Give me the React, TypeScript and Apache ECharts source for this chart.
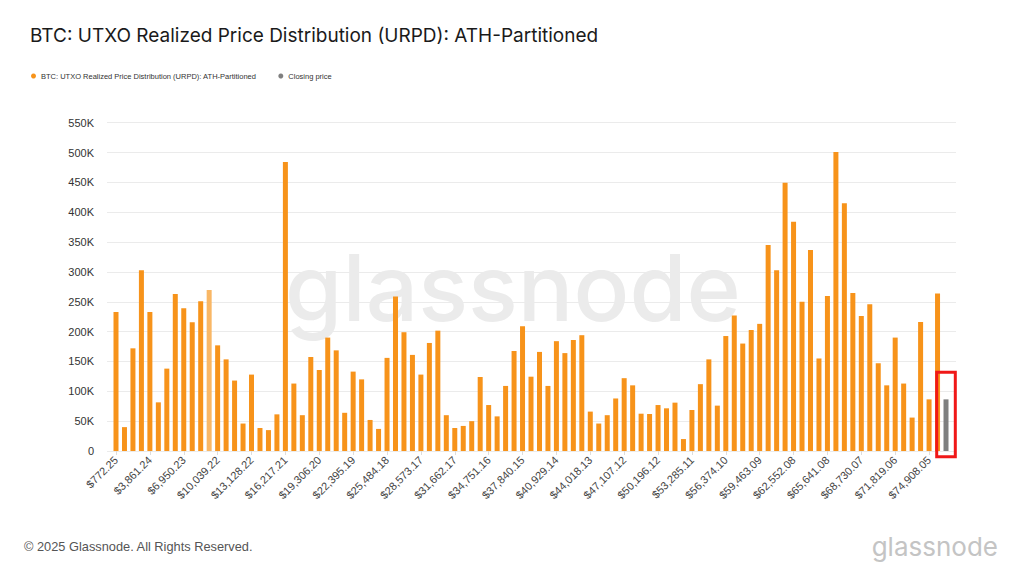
import React, { useEffect, useRef } from 'react';
import * as echarts from 'echarts';

const TITLE = 'BTC: UTXO Realized Price Distribution (URPD): ATH-Partitioned';
const SERIES_NAME = 'BTC: UTXO Realized Price Distribution (URPD): ATH-Partitioned';
const CLOSE_NAME = 'Closing price';

// x tick labels (one every 4 bins)
const TICK_LABELS = [
  '$772.25', '$3,861.24', '$6,950.23', '$10,039.22', '$13,128.22', '$16,217.21',
  '$19,306.20', '$22,395.19', '$25,484.18', '$28,573.17', '$31,662.17', '$34,751.16',
  '$37,840.15', '$40,929.14', '$44,018.13', '$47,107.12', '$50,196.12', '$53,285.11',
  '$56,374.10', '$59,463.09', '$62,552.08', '$65,641.08', '$68,730.07', '$71,819.06',
  '$74,908.05',
];
const TICK_STEP = 4;

// URPD supply per price bin (BTC)
const URPD_VALUES = [
  233000, 40000, 172000, 303000, 233000, 81500, 138000, 263000, 239000, 215500,
  250700, 269700, 177000, 153500, 118000, 46000, 128000, 38500, 35000, 61400,
  484000, 113000, 60000, 157500, 135700, 190000, 168600, 64000, 133000, 120000,
  52000, 37000, 156000, 259000, 199000, 161000, 128000, 181000, 201600, 60000,
  38500, 42000, 50000, 124000, 77000, 58000, 109000, 167500, 209000, 124500,
  166000, 109000, 184000, 164000, 186000, 194000, 66000, 46000, 60000, 88000,
  122000, 110000, 62500, 62000, 77000, 71500, 81000, 20000, 68700, 112000,
  153500, 76000, 192600, 227000, 180000, 202700, 213000, 345000, 303000, 449500,
  384000, 250000, 336700, 155000, 259600, 501000, 415000, 264700, 226000, 246000,
  147000, 110000, 190000, 113000, 56000, 216000, 86500, 264000,
];
const HIGHLIGHT_INDEX = 11;

// closing price bin
const CLOSE_INDEX = 98;
const CLOSE_VALUE = 86500;

// annotation box value range
const BOX_TOP = 132000;
const BOX_BOTTOM = -9500;

const ORANGE = '#f7931a';
const ORANGE_LIGHT = '#f9b765';
const GRAY = '#7f7f7f';

export default function App() {
  const ref = useRef<HTMLDivElement>(null);

  useEffect(() => {
    document.body.style.margin = '0';
    const chart = echarts.init(ref.current!, null, { renderer: 'svg' });
    const tickIdx = TICK_LABELS.map((_, i) => i * TICK_STEP);

    const option: any = {
      animation: false,
      backgroundColor: '#ffffff',
      title: {
        text: TITLE,
        left: 25,
        top: 21,
        textStyle: { fontFamily: 'Inter', fontSize: 19, fontWeight: 'normal', color: '#1a1a1a' },
      },
      legend: {
        left: 26,
        top: 67,
        icon: 'circle',
        itemWidth: 5,
        itemHeight: 5,
        itemGap: 22,
        data: [
          { name: SERIES_NAME, itemStyle: { color: ORANGE } },
          { name: CLOSE_NAME, itemStyle: { color: GRAY } },
        ],
        textStyle: { fontFamily: 'Liberation Sans', fontSize: 7.5, color: '#333' },
      },
      grid: { left: 107, right: 68, top: 122.7, height: 328.3 },
      xAxis: {
        type: 'value',
        min: -1.063,
        max: 99.18,
        splitLine: { show: false },
        axisLine: { show: false },
        axisTick: { show: true, customValues: tickIdx, length: 4, lineStyle: { color: '#dddddd' } },
        axisLabel: {
          customValues: tickIdx,
          rotate: 45,
          margin: 7,
          formatter: (v: number) => TICK_LABELS[Math.round(v / TICK_STEP)] ?? '',
          fontFamily: 'Liberation Sans',
          fontSize: 11,
          color: '#444',
        },
      },
      yAxis: {
        type: 'value',
        min: 0,
        max: 550000,
        interval: 50000,
        axisLine: { show: false },
        axisTick: { show: false },
        splitLine: { lineStyle: { color: '#ebebeb', width: 1 } },
        axisLabel: {
          formatter: (v: number) => (v === 0 ? '0' : v / 1000 + 'K'),
          fontFamily: 'Liberation Sans',
          fontSize: 11,
          color: '#333',
          margin: 13,
        },
      },
      series: [
        {
          name: SERIES_NAME,
          type: 'bar',
          barWidth: 5,
          barGap: '-100%',
          itemStyle: { color: ORANGE },
          data: URPD_VALUES.map((v, i) =>
            i === HIGHLIGHT_INDEX ? { value: [i, v], itemStyle: { color: ORANGE_LIGHT } } : [i, v]
          ),
        },
        {
          name: CLOSE_NAME,
          type: 'bar',
          barWidth: 5,
          barGap: '-100%',
          itemStyle: { color: GRAY },
          data: [[CLOSE_INDEX, CLOSE_VALUE]],
        },
      ],
      graphic: [
        {
          id: 'watermark',
          type: 'text',
          z: -10,
          silent: true,
          style: {
            text: 'glassnode',
            x: 513,
            y: 287,
            textAlign: 'center',
            textVerticalAlign: 'middle',
            fontFamily: 'Inter',
            fontSize: 92.5,
            fontWeight: 500,
            fill: '#ebebeb',
          },
        },
        {
          id: 'copyright',
          type: 'text',
          style: {
            text: '© 2025 Glassnode. All Rights Reserved.',
            x: 24,
            y: 546,
            textVerticalAlign: 'middle',
            fontFamily: 'Liberation Sans',
            fontSize: 12.8,
            fill: '#555555',
          },
        },
        {
          id: 'logo',
          type: 'text',
          style: {
            text: 'glassnode',
            x: 998,
            y: 546,
            textAlign: 'right',
            textVerticalAlign: 'middle',
            fontFamily: 'Inter',
            fontSize: 26,
            fill: '#c4c4c4',
          },
        },
      ],
    };

    chart.setOption(option);

    const p1 = chart.convertToPixel({ xAxisIndex: 0, yAxisIndex: 0 }, [CLOSE_INDEX, BOX_TOP]) as number[];
    const p2 = chart.convertToPixel({ xAxisIndex: 0, yAxisIndex: 0 }, [CLOSE_INDEX, BOX_BOTTOM]) as number[];
    chart.setOption({
      graphic: [
        {
          id: 'closeBox',
          type: 'rect',
          z: 100,
          silent: true,
          shape: { x: p1[0] - 9.3, y: p1[1], width: 18.6, height: p2[1] - p1[1] },
          style: { fill: 'none', stroke: '#f01818', lineWidth: 3 },
        },
      ],
    });

    return () => chart.dispose();
  }, []);

  return <div ref={ref} style={{ width: 1024, height: 576 }} />;
}
